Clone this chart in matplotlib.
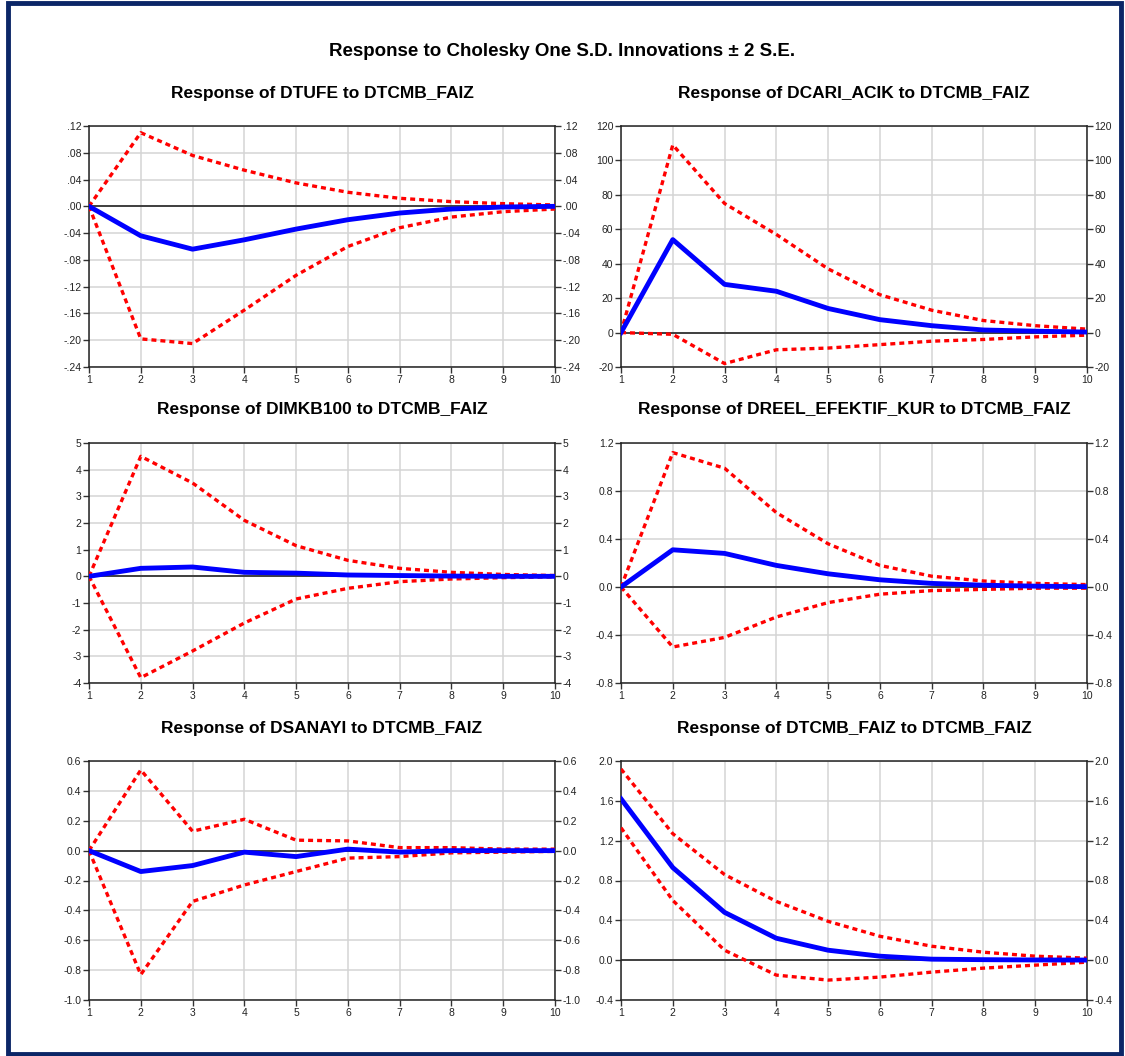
import matplotlib
matplotlib.use('Agg')
import matplotlib.pyplot as plt
from matplotlib.patches import Rectangle

plt.rcParams['font.family'] = ['Liberation Sans', 'DejaVu Sans']

# horizon
periods = [1, 2, 3, 4, 5, 6, 7, 8, 9, 10]

titles = [
    'Response of DTUFE to DTCMB_FAIZ',
    'Response of DCARI_ACIK to DTCMB_FAIZ',
    'Response of DIMKB100 to DTCMB_FAIZ',
    'Response of DREEL_EFEKTIF_KUR to DTCMB_FAIZ',
    'Response of DSANAYI to DTCMB_FAIZ',
    'Response of DTCMB_FAIZ to DTCMB_FAIZ',
]

# impulse responses (blue) and +/- 2 S.E. bands (red)
dtufe = [0.0, -0.044, -0.064, -0.050, -0.034, -0.020, -0.010, -0.004, -0.001, 0.0]
dtufe_hi = [0.0, 0.110, 0.076, 0.054, 0.035, 0.021, 0.012, 0.007, 0.004, 0.002]
dtufe_lo = [0.0, -0.198, -0.205, -0.155, -0.103, -0.060, -0.032, -0.016, -0.008, -0.004]

dcari = [0, 54, 28, 24, 14, 7.5, 4, 1.5, 0.8, 0.3]
dcari_hi = [0, 109, 75, 57, 37, 22, 13, 7, 4, 2]
dcari_lo = [0, -1, -18, -10, -9, -7, -5, -4, -2.5, -1.5]

dimkb = [0.0, 0.30, 0.35, 0.15, 0.12, 0.05, 0.03, 0.01, 0.0, 0.0]
dimkb_hi = [0.0, 4.5, 3.5, 2.1, 1.15, 0.6, 0.3, 0.15, 0.07, 0.03]
dimkb_lo = [0.0, -3.8, -2.8, -1.75, -0.85, -0.45, -0.2, -0.1, -0.05, -0.02]

dreel = [0.0, 0.31, 0.28, 0.18, 0.11, 0.06, 0.03, 0.015, 0.007, 0.003]
dreel_hi = [0.0, 1.12, 0.99, 0.62, 0.36, 0.18, 0.09, 0.05, 0.03, 0.02]
dreel_lo = [0.0, -0.50, -0.42, -0.25, -0.13, -0.06, -0.03, -0.02, -0.01, -0.01]

dsanayi = [0.0, -0.14, -0.10, -0.01, -0.04, 0.01, -0.01, 0.0, 0.0, 0.0]
dsanayi_hi = [0.0, 0.54, 0.13, 0.21, 0.07, 0.065, 0.02, 0.02, 0.01, 0.01]
dsanayi_lo = [0.0, -0.83, -0.34, -0.23, -0.14, -0.05, -0.04, -0.015, -0.01, -0.005]

dtcmb = [1.62, 0.93, 0.48, 0.22, 0.10, 0.04, 0.01, 0.005, 0.002, 0.001]
dtcmb_hi = [1.92, 1.27, 0.86, 0.59, 0.39, 0.24, 0.14, 0.08, 0.04, 0.02]
dtcmb_lo = [1.33, 0.60, 0.10, -0.15, -0.20, -0.17, -0.12, -0.08, -0.05, -0.02]

# y ticks and their labels per panel
ticks_dtufe = [-0.24, -0.20, -0.16, -0.12, -0.08, -0.04, 0.0, 0.04, 0.08, 0.12]
labels_dtufe = ['-.24', '-.20', '-.16', '-.12', '-.08', '-.04', '.00', '.04', '.08', '.12']
ticks_dcari = [-20, 0, 20, 40, 60, 80, 100, 120]
labels_dcari = ['-20', '0', '20', '40', '60', '80', '100', '120']
ticks_dimkb = [-4, -3, -2, -1, 0, 1, 2, 3, 4, 5]
labels_dimkb = ['-4', '-3', '-2', '-1', '0', '1', '2', '3', '4', '5']
ticks_dreel = [-0.8, -0.4, 0.0, 0.4, 0.8, 1.2]
labels_dreel = ['-0.8', '-0.4', '0.0', '0.4', '0.8', '1.2']
ticks_dsanayi = [-1.0, -0.8, -0.6, -0.4, -0.2, 0.0, 0.2, 0.4, 0.6]
labels_dsanayi = ['-1.0', '-0.8', '-0.6', '-0.4', '-0.2', '0.0', '0.2', '0.4', '0.6']
ticks_dtcmb = [-0.4, 0.0, 0.4, 0.8, 1.2, 1.6, 2.0]
labels_dtcmb = ['-0.4', '0.0', '0.4', '0.8', '1.2', '1.6', '2.0']

panels = [
    (dtufe, dtufe_hi, dtufe_lo, ticks_dtufe, labels_dtufe),
    (dcari, dcari_hi, dcari_lo, ticks_dcari, labels_dcari),
    (dimkb, dimkb_hi, dimkb_lo, ticks_dimkb, labels_dimkb),
    (dreel, dreel_hi, dreel_lo, ticks_dreel, labels_dreel),
    (dsanayi, dsanayi_hi, dsanayi_lo, ticks_dsanayi, labels_dsanayi),
    (dtcmb, dtcmb_hi, dtcmb_lo, ticks_dtcmb, labels_dtcmb),
]

W, H = 1125, 1056
fig = plt.figure(figsize=(W / 100, H / 100), dpi=100)

# outer frame
fig.patches.append(Rectangle((8 / W, 2 / H), 1113 / W, 1051 / H, transform=fig.transFigure,
                             fill=False, edgecolor='#0b2667', linewidth=3.5))

fig.text(0.5, 1 - 52 / H, 'Response to Cholesky One S.D. Innovations \u00b1 2 S.E.',
         ha='center', va='center', fontsize=13.5, fontweight='bold')

cols = [(89, 555), (621, 1087)]
rows = [(126, 367), (443, 683), (761, 1000)]

for i, (resp, hi, lo, ticks, labels) in enumerate(panels):
    x0, x1 = cols[i % 2]
    y0, y1 = rows[i // 2]
    ax = fig.add_axes([x0 / W, 1 - y1 / H, (x1 - x0) / W, (y1 - y0) / H])
    ax.grid(True, color='#d4d4d4', linewidth=1.1)
    ax.set_axisbelow(True)
    ax.axhline(0, color='#333333', linewidth=1.3, zorder=2)
    ax.plot(periods, hi, color='red', linewidth=2.4, linestyle=(0, (1.5, 1.2)), zorder=3)
    ax.plot(periods, lo, color='red', linewidth=2.4, linestyle=(0, (1.5, 1.2)), zorder=3)
    ax.plot(periods, resp, color='#0000ff', linewidth=3.5, zorder=4)
    ax.set_xlim(1, 10)
    ax.set_ylim(ticks[0], ticks[-1])
    ax.set_xticks(periods)
    ax.set_yticks(ticks)
    ax.set_yticklabels(labels)
    ax.tick_params(axis='both', direction='out', length=4, width=1, labelsize=7.5,
                   colors='#333333', labelcolor='#222222', pad=1.5)
    ax.tick_params(axis='y', right=True, labelright=True)
    for s in ax.spines.values():
        s.set_color('#222222')
        s.set_linewidth(1.1)
    fig.text((x0 + x1) / 2 / W, 1 - (y0 - 33) / H, titles[i], ha='center', va='center',
             fontsize=12.5, fontweight='bold')

fig.savefig('out.png', dpi=100)
